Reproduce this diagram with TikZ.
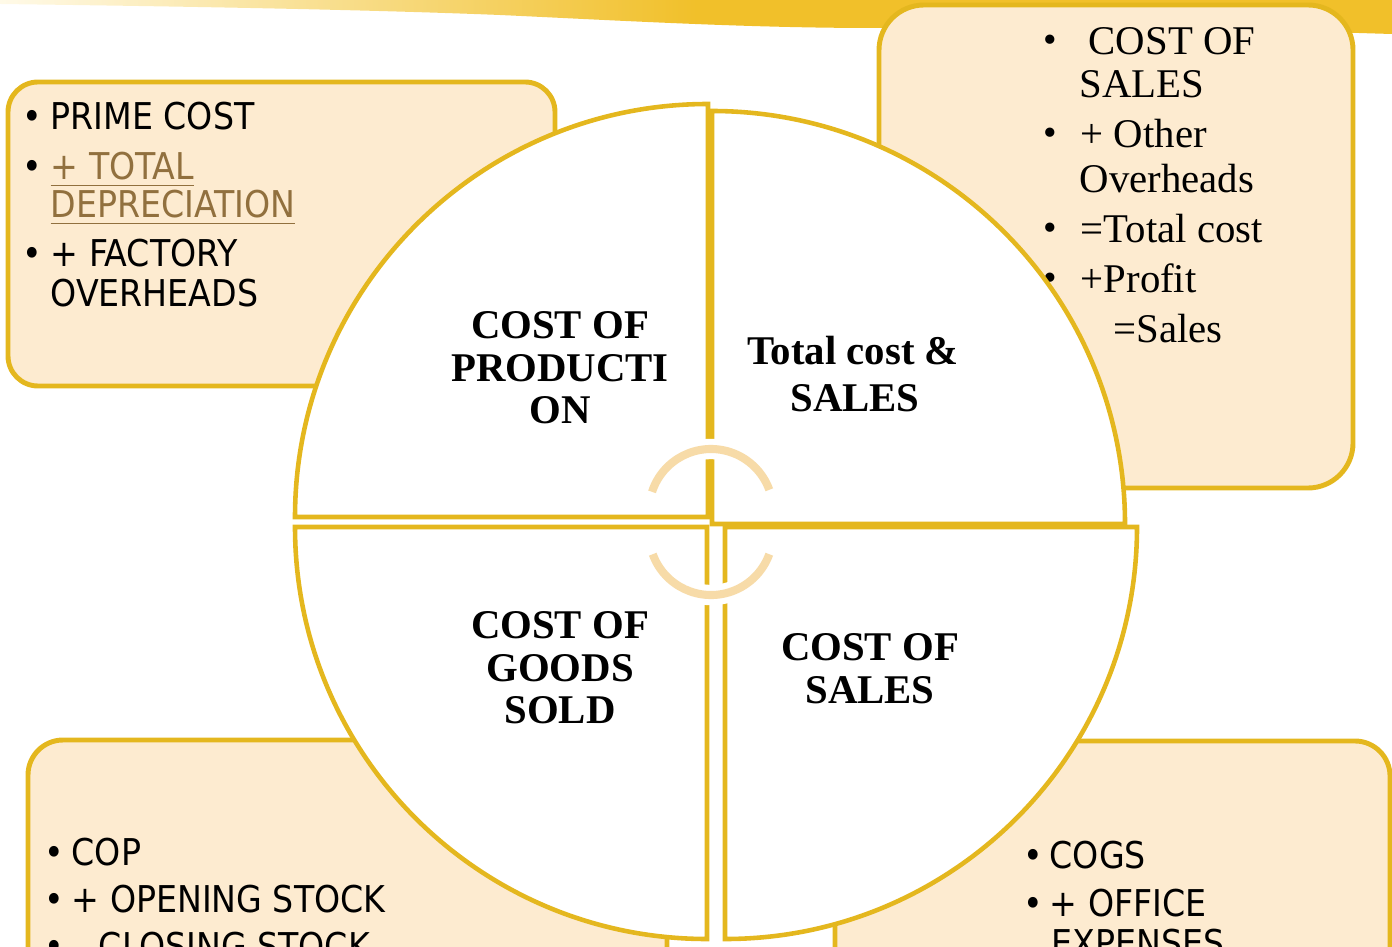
\documentclass[tikz,border=0pt]{standalone}
\usepackage{fontspec}
\setmainfont{Liberation Serif}
\newfontfamily\cardsans{DejaVu Sans Condensed}

\definecolor{rimgold}{RGB}{228,183,30}
\definecolor{cardfill}{RGB}{253,235,208}
\definecolor{cyclefill}{RGB}{247,219,168}
\definecolor{linkbrown}{RGB}{145,112,62}
\definecolor{brushlight}{RGB}{255,250,232}
\definecolor{brushgold}{RGB}{241,192,42}

\tikzset{
  card/.style={draw=rimgold, line width=1.4pt, fill=cardfill, rounded corners=#1},
  quarter/.style={draw=rimgold, line width=1.3pt, fill=white},
  sanstxt/.style={anchor=base west, inner sep=0pt, font=\cardsans\fontsize{10.5}{13}\selectfont},
  serftxt/.style={anchor=base west, inner sep=0pt, font=\fontsize{11.6}{14}\selectfont},
  bul/.style={anchor=base},
  slice/.style={anchor=base, inner sep=0pt, font=\bfseries\fontsize{11.6}{14}\selectfont},
}

\begin{document}
\begin{tikzpicture}[x=0.01cm, y=-0.01cm]
\useasboundingbox (0,0) rectangle (1392,946);
\clip (0,0) rectangle (1392,946);

% brush stroke along the top
\shade[left color=brushlight, right color=brushgold, middle color=brushgold]
  (0,0) -- (1392,0) -- (1392,34)
  .. controls (1250,30) and (1100,22) .. (950,27)
  .. controls (800,31) and (650,22) .. (500,15)
  .. controls (350,9) and (150,6) .. (0,4) -- cycle;

% the four text cards
\draw[card=0.3cm]  (8,82) rectangle (555,386);
\draw[card=0.45cm] (879,5) rectangle (1353,488);
\draw[card=0.35cm] (28,740) rectangle (667,1000);
\draw[card=0.35cm] (835,741) rectangle (1390,1000);

% card: cost of production
\node[sanstxt, bul] (pc-b1) at (32,130) {\textbullet};
\node[sanstxt, bul] (pc-b2) at (32,180) {\textbullet};
\node[sanstxt, bul] (pc-b3) at (32,267) {\textbullet};
\node[sanstxt] (pc-1) at (50,130) {PRIME COST};
\node[sanstxt, text=linkbrown] (pc-2) at (50,180) {\underline{+ TOTAL}};
\node[sanstxt, text=linkbrown] (pc-3) at (50,218) {\underline{DEPRECIATION}};
\node[sanstxt] (pc-4) at (50,267) {+ FACTORY};
\node[sanstxt] (pc-5) at (50,307) {OVERHEADS};

% card: total cost and sales
\node[serftxt, bul, font=\fontsize{11}{13}\selectfont] (ts-b1) at (1050,53) {\textbullet};
\node[serftxt, bul, font=\fontsize{11}{13}\selectfont] (ts-b2) at (1050,146) {\textbullet};
\node[serftxt, bul, font=\fontsize{11}{13}\selectfont] (ts-b3) at (1050,241) {\textbullet};
\node[serftxt, bul, font=\fontsize{11}{13}\selectfont] (ts-b4) at (1050,291) {\textbullet};
\node[serftxt] (ts-1) at (1088,55) {COST OF};
\node[serftxt] (ts-2) at (1079,98) {SALES};
\node[serftxt] (ts-3) at (1080,148) {+ Other};
\node[serftxt] (ts-4) at (1079,193) {Overheads};
\node[serftxt] (ts-5) at (1080,243) {=Total cost};
\node[serftxt] (ts-6) at (1080,293) {+Profit};
\node[serftxt] (ts-7) at (1113,343) {=Sales};

% card: cost of goods sold
\node[sanstxt, bul] (gs-b1) at (54,865) {\textbullet};
\node[sanstxt, bul] (gs-b2) at (54,912) {\textbullet};
\node[sanstxt, bul] (gs-b3) at (54,959) {\textbullet};
\node[sanstxt] (gs-1) at (71,865) {COP};
\node[sanstxt] (gs-2) at (71,912) {+ OPENING STOCK};
\node[sanstxt] (gs-3) at (71,959) {– CLOSING STOCK};

% card: cost of sales
\node[sanstxt, bul] (cs-b1) at (1033,868) {\textbullet};
\node[sanstxt, bul] (cs-b2) at (1033,916) {\textbullet};
\node[sanstxt] (cs-1) at (1049,868) {COGS};
\node[sanstxt] (cs-2) at (1049,916) {+ OFFICE};
\node[sanstxt] (cs-3) at (1051,956) {EXPENSES};

% the circle, cut into four quarters
\draw[quarter] (708,517) -- (295,517) arc[start angle=180, end angle=270, radius=413] -- cycle;
\draw[quarter] (712,524) -- (712,111) arc[start angle=270, end angle=360, radius=413] -- cycle;
\draw[quarter] (707,527) -- (295,527) arc[start angle=180, end angle=90, radius=412] -- cycle;
\draw[quarter] (725,527) -- (1137,527) arc[start angle=0, end angle=90, radius=412] -- cycle;

% cycle arrows in the middle
\draw[white, line width=5.8pt] (711,511) ++(198:62) arc[start angle=198, end angle=340, radius=62];
\draw[cyclefill, line width=2.3pt] (711,511) ++(198:62) arc[start angle=198, end angle=340, radius=62];
\draw[white, line width=5.8pt] (711,533) ++(160:62) arc[start angle=160, end angle=20, radius=62];
\draw[cyclefill, line width=2.3pt] (711,533) ++(160:62) arc[start angle=160, end angle=20, radius=62];

% quarter labels
\node[slice] (cop-1) at (560,338) {COST OF};
\node[slice] (cop-2) at (560,381) {PRODUCTI};
\node[slice] (cop-3) at (560,423) {ON};
\node[slice] (tcs-1) at (853,364) {Total cost \&};
\node[slice] (tcs-2) at (855,411) {SALES};
\node[slice] (cogs-1) at (560,638) {COST OF};
\node[slice] (cogs-2) at (560,681) {GOODS};
\node[slice] (cogs-3) at (560,723) {SOLD};
\node[slice] (cos-1) at (870,660) {COST OF};
\node[slice] (cos-2) at (870,703) {SALES};
\end{tikzpicture}
\end{document}
